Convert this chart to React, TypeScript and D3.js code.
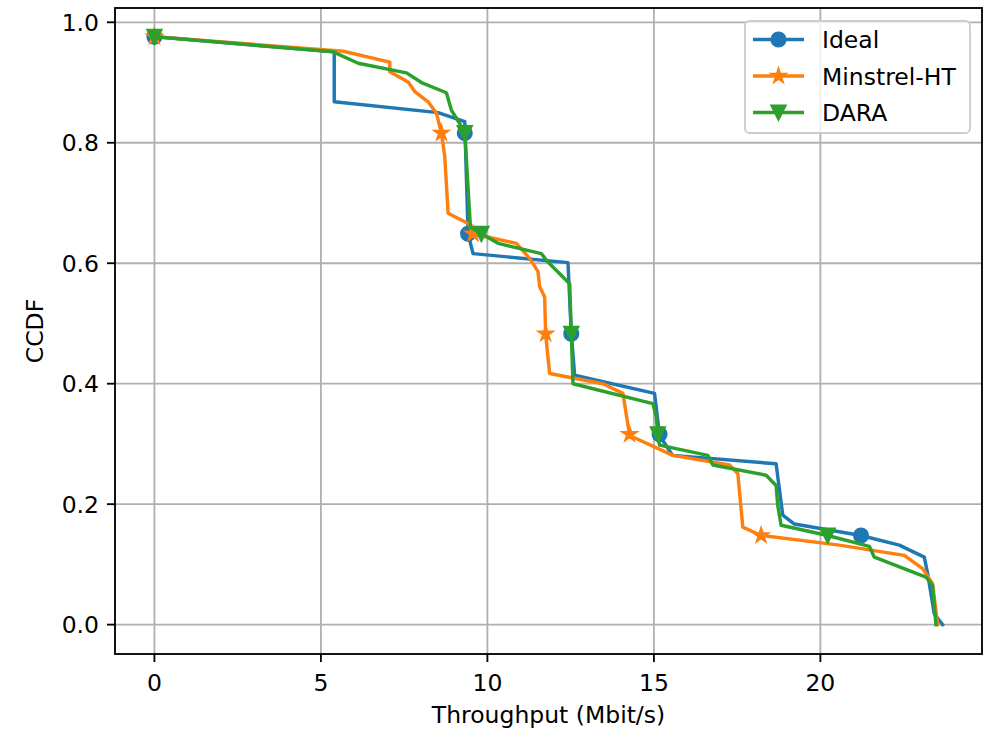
import React from "react";
import * as d3 from "d3";

// ---- data ----
const idealX = [0, 5.4, 5.4, 8.52, 9.32, 9.42, 9.57, 12.42, 12.52, 12.62, 15.02, 15.17, 15.56, 18.67, 18.87, 19.22, 21.22, 22.37, 23.12, 23.22, 23.42, 23.67];
const idealY = [0.976, 0.951, 0.868, 0.85, 0.835, 0.649, 0.616, 0.601, 0.483, 0.414, 0.384, 0.314, 0.281, 0.267, 0.182, 0.167, 0.148, 0.132, 0.112, 0.085, 0.018, 0];
const idealMX = [0, 9.32, 9.42, 12.52, 15.17, 21.22];
const idealMY = [0.976, 0.816, 0.649, 0.483, 0.316, 0.148];

const minstrelX = [0, 5.67, 7.07, 7.07, 7.62, 7.82, 8.22, 8.47, 8.62, 8.72, 8.82, 9.45, 9.57, 10.87, 11.27, 11.52, 11.57, 11.72, 11.75, 11.87, 13.47, 14.07, 14.27, 15.57, 17.27, 17.52, 17.67, 18.22, 20.57, 22.52, 23.07, 23.37, 23.52];
const minstrelY = [0.976, 0.952, 0.934, 0.918, 0.901, 0.885, 0.868, 0.849, 0.816, 0.777, 0.683, 0.665, 0.649, 0.633, 0.608, 0.586, 0.561, 0.544, 0.481, 0.417, 0.4, 0.384, 0.314, 0.281, 0.265, 0.251, 0.162, 0.148, 0.132, 0.115, 0.093, 0.068, 0];
const minstrelMX = [0, 8.62, 9.57, 11.75, 14.27, 18.22];
const minstrelMY = [0.976, 0.816, 0.649, 0.483, 0.316, 0.148];

const daraX = [0, 5.37, 6.12, 7.57, 8.02, 8.77, 8.92, 9.32, 9.49, 9.82, 10.32, 11.62, 11.82, 12.47, 12.52, 12.57, 14.97, 15.07, 15.12, 15.17, 16.62, 16.77, 18.37, 18.67, 18.72, 18.82, 20.22, 21.47, 21.62, 23.17, 23.37, 23.47];
const daraY = [0.976, 0.951, 0.932, 0.916, 0.9, 0.883, 0.854, 0.818, 0.66, 0.649, 0.633, 0.616, 0.602, 0.566, 0.483, 0.4, 0.367, 0.345, 0.316, 0.298, 0.281, 0.265, 0.248, 0.231, 0.198, 0.165, 0.148, 0.13, 0.112, 0.079, 0.065, 0];
const daraMX = [0, 9.32, 9.82, 12.52, 15.12, 20.22];
const daraMY = [0.976, 0.816, 0.649, 0.483, 0.316, 0.148];

const seriesNames = ["Ideal", "Minstrel-HT", "DARA"];
const xTicks = [0, 5, 10, 15, 20];
const yTicks = [0, 0.2, 0.4, 0.6, 0.8, 1.0];
const xLabel = "Throughput (Mbit/s)";
const yLabel = "CCDF";

const COLORS = ["#1f77b4", "#ff7f0e", "#2ca02c"];
const MARKERS = ["circle", "star", "tri"];

const W = 992, H = 731;
const L = 115, R = 982, T = 8, B = 654;
const FS = 23.5;
const PT = 2.3;

const x = d3.scaleLinear().domain([-1.1835, 24.8535]).range([L, R]);
const y = d3.scaleLinear().domain([-0.04875, 1.02375]).range([B, T]);

function markerPath(kind: string, s: number): string {
  const r = s / 2;
  if (kind === "star") {
    const pts: string[] = [];
    const inner = r * 0.381966;
    for (let i = 0; i < 10; i++) {
      const rad = i % 2 === 0 ? r : inner;
      const a = -Math.PI / 2 + (i * Math.PI) / 5;
      pts.push(`${(rad * Math.cos(a)).toFixed(2)},${(rad * Math.sin(a)).toFixed(2)}`);
    }
    return "M" + pts.join("L") + "Z";
  }
  if (kind === "tri") {
    return `M0,${r}L${-r},${-r}L${r},${-r}Z`;
  }
  return d3.arc()({ innerRadius: 0, outerRadius: r, startAngle: 0, endAngle: 2 * Math.PI }) as string;
}

function Marker({ kind, cx, cy, color }: { kind: string; cx: number; cy: number; color: string }) {
  return (
    <path
      d={markerPath(kind, 6 * PT)}
      transform={`translate(${cx},${cy})`}
      fill={color}
      stroke={color}
      strokeWidth={1 * PT}
      strokeLinejoin="miter"
    />
  );
}

export default function App() {
  const series = [
    { xs: idealX, ys: idealY, mx: idealMX, my: idealMY },
    { xs: minstrelX, ys: minstrelY, mx: minstrelMX, my: minstrelMY },
    { xs: daraX, ys: daraY, mx: daraMX, my: daraMY },
  ];
  const line = d3
    .line<[number, number]>()
    .x((d) => x(d[0]))
    .y((d) => y(d[1]));

  const legX = 745, legY = 21, legW = 225, legH = 112;
  const rowY = [39.5, 76, 112.5];
  const half = FS * 0.729 / 2;

  return (
    <svg
      width={W}
      height={H}
      style={{ position: "absolute", left: 0, top: 0, background: "#fff" }}
      fontFamily="DejaVu Sans, sans-serif"
    >
      <rect x={0} y={0} width={W} height={H} fill="#fff" />
      <defs>
        <clipPath id="plotclip">
          <rect x={L} y={T} width={R - L} height={B - T} />
        </clipPath>
      </defs>
      {/* grid */}
      {xTicks.map((t) => (
        <line key={"gx" + t} x1={x(t)} x2={x(t)} y1={T} y2={B} stroke="#b0b0b0" strokeWidth={0.8 * PT} />
      ))}
      {yTicks.map((t) => (
        <line key={"gy" + t} x1={L} x2={R} y1={y(t)} y2={y(t)} stroke="#b0b0b0" strokeWidth={0.8 * PT} />
      ))}
      {/* series */}
      <g clipPath="url(#plotclip)">
        {series.map((s, i) => (
          <g key={"s" + i}>
            <path
              d={line(s.xs.map((v, j) => [v, s.ys[j]] as [number, number])) as string}
              fill="none"
              stroke={COLORS[i]}
              strokeWidth={1.5 * PT}
              strokeLinejoin="round"
              strokeLinecap="square"
            />
            {s.mx.map((v, j) => (
              <Marker key={j} kind={MARKERS[i]} cx={x(v)} cy={y(s.my[j])} color={COLORS[i]} />
            ))}
          </g>
        ))}
      </g>
      {/* spines */}
      <rect x={L} y={T} width={R - L} height={B - T} fill="none" stroke="#000" strokeWidth={0.8 * PT} />
      {/* x ticks */}
      {xTicks.map((t) => (
        <g key={"xt" + t}>
          <line x1={x(t)} x2={x(t)} y1={B} y2={B + 3.5 * PT} stroke="#000" strokeWidth={0.8 * PT} />
          <text x={x(t)} y={690.5} fontSize={FS} textAnchor="middle" fill="#000">
            {d3.format("d")(t)}
          </text>
        </g>
      ))}
      {/* y ticks */}
      {yTicks.map((t) => (
        <g key={"yt" + t}>
          <line x1={L - 3.5 * PT} x2={L} y1={y(t)} y2={y(t)} stroke="#000" strokeWidth={0.8 * PT} />
          <text x={99} y={y(t) + half} fontSize={FS} textAnchor="end" fill="#000">
            {d3.format(".1f")(t)}
          </text>
        </g>
      ))}
      {/* axis labels */}
      <text x={(L + R) / 2} y={723} fontSize={FS} textAnchor="middle" fill="#000">
        {xLabel}
      </text>
      <text
        transform={`translate(43,${(T + B) / 2}) rotate(-90)`}
        fontSize={FS}
        textAnchor="middle"
        fill="#000"
      >
        {yLabel}
      </text>
      {/* legend */}
      <rect
        x={legX}
        y={legY}
        width={legW}
        height={legH}
        rx={4.6}
        ry={4.6}
        fill="#fff"
        fillOpacity={0.8}
        stroke="#cccccc"
        strokeWidth={0.8 * PT}
      />
      {seriesNames.map((name, i) => (
        <g key={"lg" + i}>
          <line x1={753} x2={804} y1={rowY[i]} y2={rowY[i]} stroke={COLORS[i]} strokeWidth={1.5 * PT} />
          <Marker kind={MARKERS[i]} cx={778.5} cy={rowY[i]} color={COLORS[i]} />
          <text x={822} y={rowY[i] + half} fontSize={FS} fill="#000">
            {name}
          </text>
        </g>
      ))}
    </svg>
  );
}
